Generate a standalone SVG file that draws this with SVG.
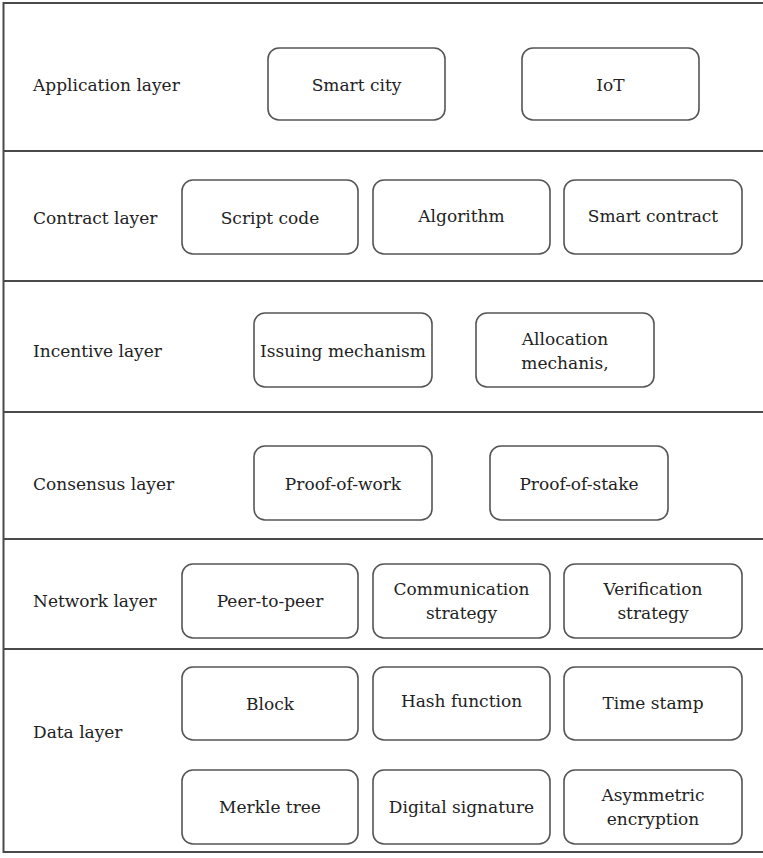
<svg xmlns="http://www.w3.org/2000/svg" width="763" height="858" viewBox="0 0 763 858">
<style>
.frame{fill:none;stroke:#4a4a4a;stroke-width:2}
.div{stroke:#4a4a4a;stroke-width:2}
.box{fill:#fff;stroke:#555;stroke-width:1.6}
.t{font-family:'DejaVu Serif',serif;font-size:17px;fill:#222}
.c{text-anchor:middle}
</style>
<rect x="0" y="0" width="763" height="858" fill="#fff"/>
<g id="frame">
<rect class="frame" x="3.5" y="3" width="770" height="849"/>
<line class="div" x1="3.5" y1="151" x2="763" y2="151"/>
<line class="div" x1="3.5" y1="281" x2="763" y2="281"/>
<line class="div" x1="3.5" y1="412" x2="763" y2="412"/>
<line class="div" x1="3.5" y1="539" x2="763" y2="539"/>
<line class="div" x1="3.5" y1="649" x2="763" y2="649"/>
</g>
<g class="t">
<g id="labels">
<text x="33" y="91">Application layer</text>
<text x="33" y="224">Contract layer</text>
<text x="33" y="357">Incentive layer</text>
<text x="33" y="490">Consensus layer</text>
<text x="33" y="607">Network layer</text>
<text x="33" y="738">Data layer</text>
</g>
<g id="smart-city"><rect class="box" x="268" y="48" width="177" height="72" rx="11"/><text class="c" x="356.5" y="91">Smart city</text></g>
<g id="iot"><rect class="box" x="522" y="48" width="177" height="72" rx="11"/><text class="c" x="610.5" y="91">IoT</text></g>
<g id="script-code"><rect class="box" x="182" y="180" width="176" height="74" rx="11"/><text class="c" x="270" y="224">Script code</text></g>
<g id="algorithm"><rect class="box" x="373" y="180" width="177" height="74" rx="11"/><text class="c" x="461.5" y="222">Algorithm</text></g>
<g id="smart-contract"><rect class="box" x="564" y="180" width="178" height="74" rx="11"/><text class="c" x="653" y="222">Smart contract</text></g>
<g id="issuing"><rect class="box" x="254" y="313" width="178" height="74" rx="11"/><text class="c" x="343" y="357">Issuing mechanism</text></g>
<g id="allocation"><rect class="box" x="476" y="313" width="178" height="74" rx="11"/><text class="c" x="565" y="345">Allocation</text><text class="c" x="565" y="369">mechanis,</text></g>
<g id="pow"><rect class="box" x="254" y="446" width="178" height="74" rx="11"/><text class="c" x="343" y="490">Proof-of-work</text></g>
<g id="pos"><rect class="box" x="490" y="446" width="178" height="74" rx="11"/><text class="c" x="579" y="490">Proof-of-stake</text></g>
<g id="p2p"><rect class="box" x="182" y="564" width="176" height="74" rx="11"/><text class="c" x="270" y="607">Peer-to-peer</text></g>
<g id="communication"><rect class="box" x="373" y="564" width="177" height="74" rx="11"/><text class="c" x="461.5" y="595">Communication</text><text class="c" x="461.5" y="619">strategy</text></g>
<g id="verification"><rect class="box" x="564" y="564" width="178" height="74" rx="11"/><text class="c" x="653" y="595">Verification</text><text class="c" x="653" y="619">strategy</text></g>
<g id="block"><rect class="box" x="182" y="667" width="176" height="73" rx="11"/><text class="c" x="270" y="710">Block</text></g>
<g id="hash"><rect class="box" x="373" y="667" width="177" height="73" rx="11"/><text class="c" x="461.5" y="707">Hash function</text></g>
<g id="timestamp"><rect class="box" x="564" y="667" width="178" height="73" rx="11"/><text class="c" x="653" y="709">Time stamp</text></g>
<g id="merkle"><rect class="box" x="182" y="770" width="176" height="74" rx="11"/><text class="c" x="270" y="813">Merkle tree</text></g>
<g id="signature"><rect class="box" x="373" y="770" width="177" height="74" rx="11"/><text class="c" x="461.5" y="813">Digital signature</text></g>
<g id="asymmetric"><rect class="box" x="564" y="770" width="178" height="74" rx="11"/><text class="c" x="653" y="801">Asymmetric</text><text class="c" x="653" y="825">encryption</text></g>
</g>
</svg>
